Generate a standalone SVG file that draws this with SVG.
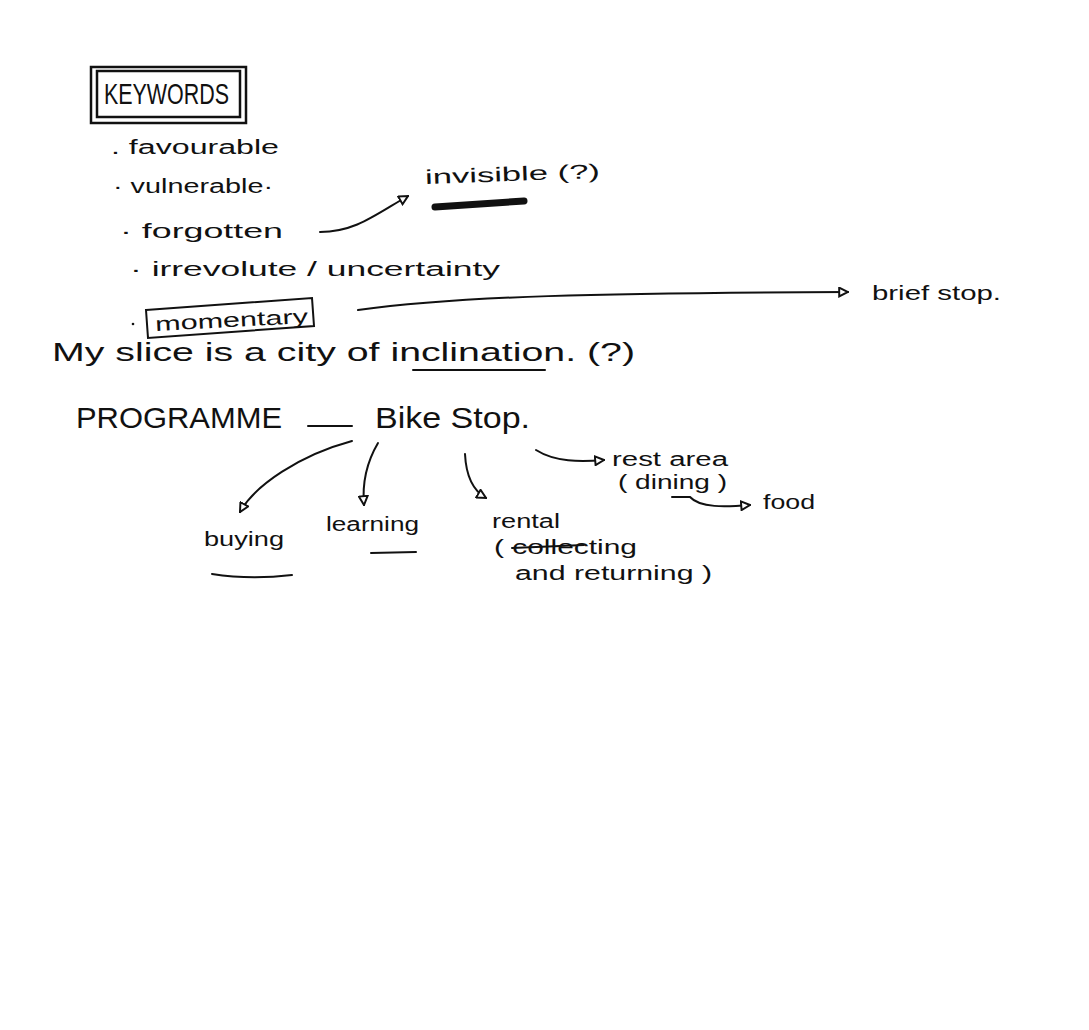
<svg xmlns="http://www.w3.org/2000/svg" width="1089" height="1030" viewBox="0 0 1089 1030">
<defs>
<style>
text{font-family:"Liberation Sans","DejaVu Sans",sans-serif;fill:#111}
.kw{font-size:29px}
.b{font-size:20px}
.m{font-size:26px}
.p{font-size:30px}
.s{font-size:20px}
.ln{fill:none;stroke:#111;stroke-width:2;stroke-linecap:round}
.box{fill:none;stroke:#111;stroke-width:2.5}
</style>
<marker id="ah" viewBox="0 0 10 10" refX="9" refY="5" markerWidth="11" markerHeight="11" orient="auto" markerUnits="userSpaceOnUse">
<path d="M1,1 L9,5 L1,9 Z" fill="#fff" stroke="#111" stroke-width="1.8"/>
</marker>
</defs>
<rect width="1089" height="1030" fill="#fff"/>

<g id="keywords">
<rect class="box" x="91" y="67" width="155" height="56"/>
<rect class="box" x="97" y="71" width="143" height="46"/>
<text class="kw" x="104" y="104" textLength="125" lengthAdjust="spacingAndGlyphs">KEYWORDS</text>
</g>

<g id="favourable"><text class="b" x="111" y="154" textLength="168" lengthAdjust="spacingAndGlyphs">. favourable</text></g>
<g id="vulnerable"><text class="b" x="113" y="193" textLength="160" lengthAdjust="spacingAndGlyphs">· vulnerable·</text></g>
<g id="forgotten"><text class="b" x="120" y="238" textLength="163" lengthAdjust="spacingAndGlyphs">· forgotten</text></g>
<g id="irresolute"><text class="b" x="130" y="276" textLength="370" lengthAdjust="spacingAndGlyphs">· irrevolute / uncertainty</text></g>
<g id="momentary">
<circle cx="133" cy="324" r="1.3" fill="#111"/>
<path class="ln" d="M146,310 L312,298 L314,326 L148,338 Z" stroke-width="1.6"/>
<text class="b" x="155" y="327" textLength="153" lengthAdjust="spacingAndGlyphs" transform="rotate(-3 230 320)">momentary</text>
</g>
<g id="invisible">
<text class="b" x="425" y="181" textLength="175" lengthAdjust="spacingAndGlyphs" transform="rotate(-2 510 175)">invisible (?)</text>
<path d="M435,207 L524,201" stroke="#111" stroke-width="7" stroke-linecap="round"/>
</g>
<g id="briefstop"><text class="b" x="872" y="300" textLength="129" lengthAdjust="spacingAndGlyphs">brief stop.</text></g>

<g id="slice">
<text class="m" x="52" y="361" textLength="583" lengthAdjust="spacingAndGlyphs">My slice is a city of inclination. (?)</text>
<path class="ln" d="M413,370 L545,370"/>
</g>

<g id="programme">
<text class="p" x="76" y="428" textLength="206" lengthAdjust="spacingAndGlyphs">PROGRAMME</text>
<path class="ln" d="M308,426 L352,426" stroke-width="2.5"/>
</g>
<g id="bikestop"><text class="p" x="375" y="428" textLength="155" lengthAdjust="spacingAndGlyphs">Bike Stop.</text></g>

<g id="restarea">
<text class="s" x="612" y="466" textLength="116" lengthAdjust="spacingAndGlyphs">rest area</text>
<text class="s" x="618" y="489" textLength="109" lengthAdjust="spacingAndGlyphs">( dining )</text>
</g>
<g id="food"><text class="s" x="763" y="509" textLength="52" lengthAdjust="spacingAndGlyphs">food</text></g>
<g id="buying">
<text class="s" x="204" y="546" textLength="80" lengthAdjust="spacingAndGlyphs">buying</text>
<path class="ln" d="M212,574 Q250,580 292,575"/>
</g>
<g id="learning">
<text class="s" x="326" y="531" textLength="93" lengthAdjust="spacingAndGlyphs">learning</text>
<path class="ln" d="M371,553 L416,552"/>
</g>
<g id="rental">
<text class="s" x="492" y="528" textLength="68" lengthAdjust="spacingAndGlyphs">rental</text>
<text class="s" x="494" y="554" textLength="143" lengthAdjust="spacingAndGlyphs">( collecting</text>
<path class="ln" d="M512,548 L584,545" stroke-width="1.5"/>
<text class="s" x="515" y="580" textLength="197" lengthAdjust="spacingAndGlyphs">and returning )</text>
</g>

<g id="connectors">
<path class="ln" d="M320,232 C355,232 375,215 408,196" marker-end="url(#ah)"/>
<path class="ln" d="M358,310 C460,296 600,293 848,292" marker-end="url(#ah)"/>
<path class="ln" d="M352,441 C300,455 255,485 240,512" marker-end="url(#ah)" stroke-width="1.5"/>
<path class="ln" d="M378,443 C368,460 362,482 364,505" marker-end="url(#ah)"/>
<path class="ln" d="M465,454 C466,475 472,490 486,498" marker-end="url(#ah)"/>
<path class="ln" d="M536,450 C555,462 580,462 604,460" marker-end="url(#ah)" stroke-width="2.5"/>
<path class="ln" d="M672,497 L690,497 C700,508 725,507 750,505" marker-end="url(#ah)"/>
</g>
</svg>
